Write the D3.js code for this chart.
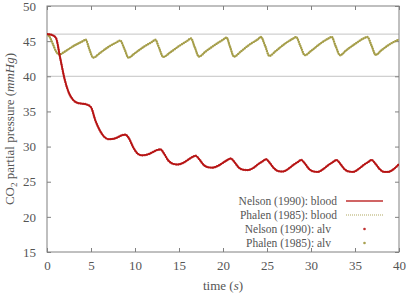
<!DOCTYPE html>
<html><head><meta charset="utf-8">
<script src="https://cdn.jsdelivr.net/npm/d3@7"></script>
<style>
body{margin:0;background:#fff;}
svg text{font-family:"Liberation Serif","DejaVu Serif",serif;fill:#555;}
</style></head>
<body><svg id="c" width="407" height="295"></svg>
<script>
// Nelson (1990): blood  — time (s), PCO2 (mmHg)
const nelsonT = [0,0.5,1.0,1.5,2.0,2.5,3.0,3.5,4.0,4.5,5.0,5.5,6.0,6.5,7.0,7.5,8.0,8.5,8.9,9.3,9.8,10.3,10.8,11.5,12.0,12.5,12.9,13.3,13.8,14.3,14.8,15.5,16.0,16.5,16.9,17.3,17.8,18.3,18.8,19.5,20.0,20.5,20.9,21.3,21.8,22.3,22.8,23.5,24.0,24.5,24.9,25.3,25.8,26.3,26.8,27.5,28.0,28.5,28.9,29.3,29.8,30.3,30.8,31.5,32.0,32.5,32.9,33.3,33.8,34.3,34.8,35.5,36.0,36.5,36.9,37.3,37.8,38.3,38.8,39.5,40.0];
const nelsonBlood = [46.0,45.9,45.5,42.6,39.6,37.6,36.6,36.2,36.1,36.0,35.6,33.7,32.3,31.4,31.05,31.1,31.3,31.6,31.7,31.2,29.9,29.0,28.75,28.9,29.2,29.5,29.6,29.0,28.0,27.55,27.45,27.7,28.1,28.5,28.7,28.2,27.4,27.05,27.0,27.3,27.7,28.1,28.3,27.8,27.0,26.7,26.65,27.0,27.5,27.9,28.2,27.7,26.9,26.5,26.45,26.9,27.4,27.8,28.1,27.6,26.8,26.45,26.4,26.9,27.4,27.8,28.1,27.6,26.8,26.45,26.4,26.9,27.4,27.8,28.1,27.6,26.8,26.4,26.4,26.9,27.5];
const nelsonAlv = nelsonBlood.slice();

// Phalen (1985): blood
const phalenT = [0,0.3,0.7,1.0,1.4,2.0,3.0,4.0,4.4,4.8,5.25,6.0,7.0,8.0,8.3,8.8,9.25,10.0,11.0,12.0,12.3,12.75,13.2,14.0,15.0,16.0,16.35,16.8,17.27,18.0,19.0,20.0,20.4,20.8,21.25,22.0,23.0,24.0,24.3,24.8,25.26,26.0,27.0,28.0,28.3,28.8,29.3,30.0,31.0,32.0,32.35,32.8,33.3,34.0,35.0,36.0,36.4,36.9,37.35,38.0,39.0,40.0];
const phalenBlood = [46.0,45.6,44.5,43.6,43.1,43.5,44.3,44.95,45.2,43.9,42.65,43.3,44.2,44.9,45.1,43.9,42.65,43.3,44.2,44.95,45.2,44.0,42.75,43.4,44.3,45.1,45.4,44.1,42.8,43.5,44.4,45.2,45.5,44.2,42.8,43.5,44.5,45.3,45.6,44.3,42.9,43.6,44.6,45.4,45.6,44.3,43.0,43.6,44.6,45.4,45.6,44.3,43.0,43.7,44.6,45.4,45.6,44.3,43.05,43.7,44.6,45.25];
const phalenAlv = phalenBlood.slice();

const xTicks = [0,5,10,15,20,25,30,35,40];
const yTicks = [15,20,25,30,35,40,45,50];
const refLines = [40,46];
const legendLabels = ["Nelson (1990):  blood","Phalen (1985):  blood","Nelson (1990):  alv","Phalen (1985):  alv"];

const red = "#b00000", olive = "#a09840";
const FONT = "'Liberation Serif','DejaVu Serif',serif";
const svg = d3.select("#c");
const m = {l:47, r:399, t:6, b:252};
const x = d3.scaleLinear().domain([0,40]).range([m.l,m.r]);
const y = d3.scaleLinear().domain([15,50]).range([m.b,m.t]);

// reference lines
svg.selectAll("line.ref").data(refLines).enter().append("line")
  .attr("x1",m.l).attr("x2",m.r).attr("y1",d=>y(d)).attr("y2",d=>y(d))
  .attr("stroke","#c4c4c4").attr("stroke-width",1);

// axes
const ax = "#808080";
function styleAxis(g){ g.attr("font-family",null).attr("font-size",null);
  g.select(".domain").remove(); g.selectAll("line").attr("stroke",ax);
  g.selectAll("text").attr("fill","#555").style("font-size","13px").style("font-family",FONT); }
svg.append("g").attr("transform",`translate(0,${m.b})`)
  .call(d3.axisBottom(x).tickValues(xTicks).tickSizeInner(-4).tickSizeOuter(0).tickPadding(9))
  .call(styleAxis);
svg.append("g").attr("transform",`translate(0,${m.t})`)
  .call(d3.axisTop(x).tickValues(xTicks).tickSizeInner(-4).tickSizeOuter(0).tickFormat(""))
  .call(styleAxis);
svg.append("g").attr("transform",`translate(${m.l},0)`)
  .call(d3.axisLeft(y).tickValues(yTicks).tickSizeInner(-4).tickSizeOuter(0).tickPadding(11))
  .call(styleAxis);
svg.append("g").attr("transform",`translate(${m.r},0)`)
  .call(d3.axisRight(y).tickValues(yTicks).tickSizeInner(-4).tickSizeOuter(0).tickFormat(""))
  .call(styleAxis);
svg.append("rect").attr("x",m.l).attr("y",m.t).attr("width",m.r-m.l).attr("height",m.b-m.t)
  .attr("fill","none").attr("stroke",ax).attr("stroke-width",1);

// lines
svg.append("clipPath").attr("id","cp").append("rect")
  .attr("x",m.l).attr("y",m.t).attr("width",m.r-m.l).attr("height",m.b-m.t);
const plot = svg.append("g").attr("clip-path","url(#cp)");
const line = d3.line().curve(d3.curveMonotoneX);
function pts(T,V){ return T.map((t,i)=>[x(t),y(V[i])]); }

plot.append("path").attr("d",line(pts(phalenT,phalenBlood))).attr("fill","none")
  .attr("stroke",olive).attr("stroke-width",1.6).attr("stroke-dasharray","1.5,0.6");
plot.append("path").attr("d",line(pts(phalenT,phalenAlv))).attr("fill","none")
  .attr("stroke",olive).attr("stroke-width",2.4).attr("stroke-linecap","round").attr("stroke-dasharray","0,2.2").attr("opacity",0.8);
plot.append("path").attr("d",line(pts(nelsonT,nelsonBlood))).attr("fill","none")
  .attr("stroke",red).attr("stroke-width",1.6);
plot.append("path").attr("d",line(pts(nelsonT,nelsonAlv))).attr("fill","none")
  .attr("stroke","#b81818").attr("stroke-width",2.4).attr("stroke-linecap","round").attr("stroke-dasharray","0,2.2").attr("opacity",0.8);

// legend
const lgY = [201,215,229,243];
const lgX = [337,337,331,331];
legendLabels.forEach((s,i)=>{
  svg.append("text").attr("x",lgX[i]).attr("y",lgY[i]).attr("dy","0.35em")
    .attr("text-anchor","end").style("font-size","11.5px").style("font-family",FONT).text(s);
});
svg.append("line").attr("x1",346).attr("x2",383).attr("y1",lgY[0]).attr("y2",lgY[0])
  .attr("stroke","#c03030").attr("stroke-width",1.5);
svg.append("line").attr("x1",346).attr("x2",383).attr("y1",lgY[1]).attr("y2",lgY[1])
  .attr("stroke","#b0a860").attr("stroke-width",1.2).attr("stroke-dasharray","1,1");
svg.append("circle").attr("cx",364.5).attr("cy",lgY[2]).attr("r",1.3).attr("fill","#c03030");
svg.append("circle").attr("cx",364.5).attr("cy",lgY[3]).attr("r",1.3).attr("fill","#a8a050");

// axis titles
const xt = svg.append("text").attr("x",(m.l+m.r)/2).attr("y",285).attr("dy","0.35em")
  .attr("text-anchor","middle").style("font-size","13px").style("font-family",FONT);
xt.append("tspan").text("time (");
xt.append("tspan").style("font-style","italic").text("s");
xt.append("tspan").text(")");
const yt = svg.append("text").attr("transform",`translate(9,${(m.t+m.b)/2}) rotate(-90)`)
  .attr("text-anchor","middle").attr("dy","0.35em").style("font-size","13px").style("font-family",FONT);
yt.append("tspan").text("CO");
yt.append("tspan").attr("dy","3").style("font-size","9px").text("2");
yt.append("tspan").attr("dy","-3").text(" partial pressure (");
yt.append("tspan").style("font-style","italic").text("mmHg");
yt.append("tspan").text(")");
</script></body></html>
